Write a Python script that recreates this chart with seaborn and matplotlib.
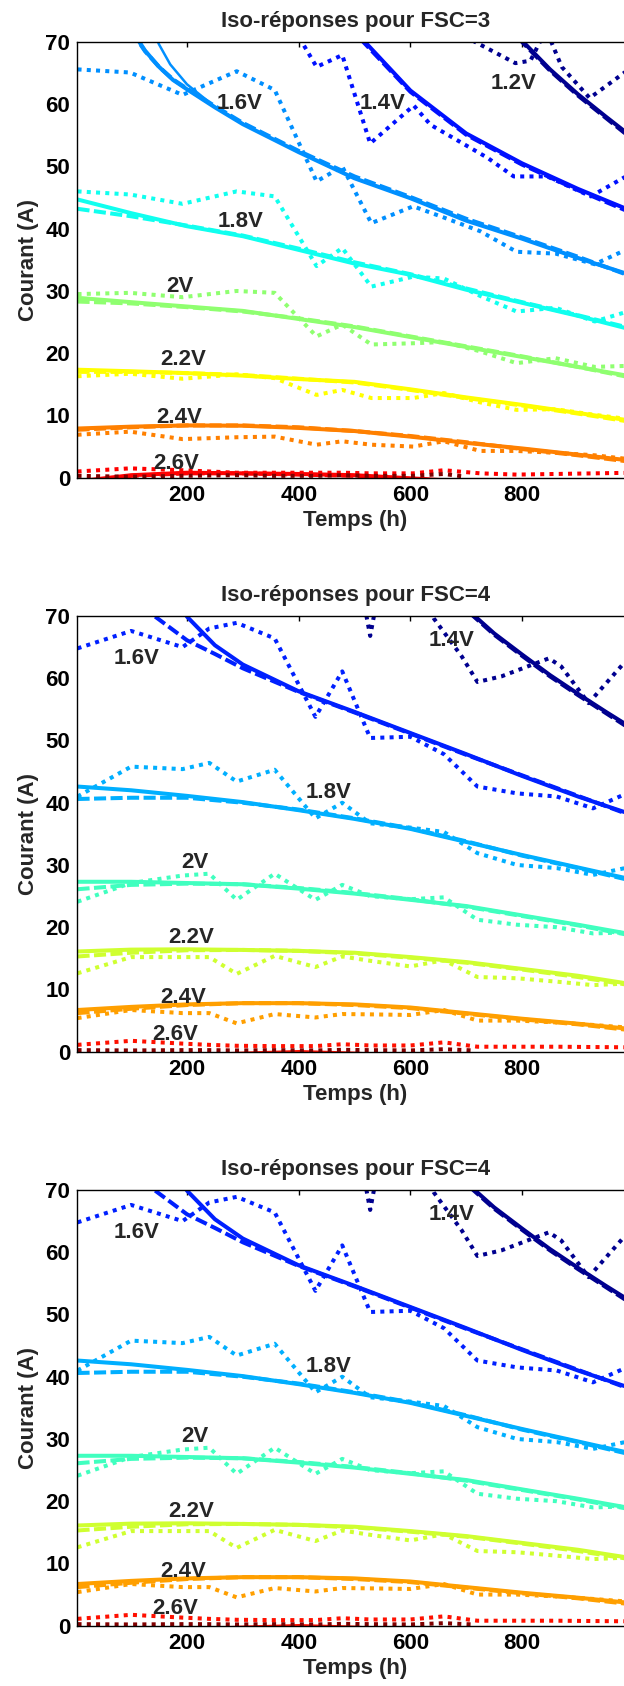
import numpy as np
import matplotlib
matplotlib.use("Agg")
import matplotlib.pyplot as plt
import seaborn as sns

# ---------------------------------------------------------------- data
T_MODEL = [4, 100, 200, 300, 400, 500, 600, 700, 800, 900, 1000]

# ---- FSC = 3 : model curves (solid / dashed) ----
F3_T12 = [700, 750, 800, 850, 900, 950, 1000]
F3_SOLID_12 = [82.0, 75.8, 70.2, 65.6, 61.6, 58.0, 54.5]
F3_DASH_12 = [81.6, 75.5, 70.0, 65.4, 61.4, 57.8, 54.2]

F3_T14 = [450, 500, 600, 700, 800, 900, 1000]
F3_SOLID_14 = [78.5, 71.8, 62.2, 55.3, 50.5, 46.4, 42.7]
F3_DASH_14 = [78.0, 71.5, 62.0, 55.1, 50.3, 46.2, 42.4]

F3_T16 = [100, 125, 150, 175, 200, 250, 300, 400, 500, 600, 700, 800, 900, 1000]
F3_SOLID_16 = [72.0, 68.6, 66.0, 63.9, 62.4, 59.5, 56.8, 52.3, 48.1, 44.9, 41.3, 38.4, 35.3, 32.4]
F3_DASH_16 = [71.8, 68.5, 66.0, 64.0, 62.5, 59.7, 57.0, 52.5, 48.4, 45.1, 41.6, 38.6, 35.5, 32.2]
F3_T16_THIN = [130, 150, 170, 200, 250, 300]
F3_THIN_16 = [73.5, 69.6, 66.4, 63.2, 59.6, 56.9]

F3_SOLID_18 = [44.7, 42.5, 40.4, 38.8, 36.6, 34.4, 32.6, 30.2, 28.1, 26.0, 23.7]
F3_DASH_18 = [43.2, 42.0, 40.5, 38.9, 36.8, 34.6, 32.7, 30.4, 28.2, 26.1, 23.9]
F3_SOLID_20 = [28.9, 28.2, 27.5, 26.8, 25.5, 24.2, 22.6, 21.0, 19.4, 17.8, 16.2]
F3_DASH_20 = [28.3, 28.0, 27.4, 26.7, 25.6, 24.3, 22.7, 21.1, 19.5, 17.8, 16.0]
F3_SOLID_22 = [17.35, 17.1, 16.8, 16.4, 15.85, 15.4, 14.2, 12.9, 11.7, 10.4, 9.1]
F3_DASH_22 = [17.0, 17.0, 16.8, 16.5, 15.9, 15.3, 14.1, 12.8, 11.6, 10.3, 8.9]
F3_SOLID_24 = [7.9, 8.2, 8.4, 8.35, 8.0, 7.5, 6.6, 5.6, 4.7, 3.7, 2.7]
F3_DASH_24 = [7.7, 8.1, 8.4, 8.4, 8.1, 7.5, 6.7, 5.7, 4.6, 3.6, 2.5]
F3_SOLID_26 = [-0.6, 0.4, 0.8, 0.7, 0.6, 0.4, -0.1, -0.6, -1.0, -1.5, -2.0]
F3_DASH_26 = [-0.8, 0.3, 0.7, 0.7, 0.5, 0.3, -0.2, -0.7, -1.2, -1.6, -2.1]

# ---- FSC = 3 : measurements (dotted) ----
F3_T_MEAS = [4, 98, 192, 289, 357, 432, 478, 530, 605, 660, 725, 790, 860, 930, 1000]
F3_DOT_16 = [65.6, 65.1, 61.5, 65.3, 62.3, 47.6, 50.0, 40.9, 43.6, 41.8, 39.6, 36.3, 36.0, 34.3, 37.2]
F3_DOT_18 = [46.0, 45.5, 44.0, 46.0, 45.2, 34.0, 36.9, 30.7, 32.3, 32.0, 29.2, 26.7, 27.3, 25.1, 27.0]
F3_DOT_20 = [29.5, 29.7, 29.0, 30.0, 29.7, 22.7, 24.6, 21.4, 21.6, 21.8, 20.3, 18.4, 19.2, 17.8, 18.0]
F3_DOT_22 = [16.3, 16.7, 15.9, 16.6, 16.0, 13.3, 14.1, 12.8, 12.8, 13.6, 12.1, 10.9, 11.0, 10.1, 9.3]
F3_DOT_24 = [6.9, 7.4, 6.2, 6.5, 6.6, 5.3, 5.85, 5.3, 5.0, 5.85, 4.3, 4.3, 4.0, 3.6, 2.9]
F3_DOT_26 = [1.0, 1.5, 1.2, 0.8, 0.8, 0.8, 0.8, 0.7, 0.7, 1.2, 0.7, 0.5, 0.6, 0.7, 0.8]
F3_T_DOT_28 = [4, 98, 192, 289, 357, 432, 478, 530, 605, 660, 695]
F3_DOT_28 = [0.3, 0.15, 0.3, 0.4, 0.3, 0.3, 0.4, 0.3, 0.3, 0.6, 0.2]
F3_T_DOT_14 = [380, 407, 432, 478, 528, 606, 636, 738, 785, 845, 923, 982, 1000]
F3_DOT_14 = [73.0, 69.8, 66.0, 67.9, 53.7, 59.8, 56.7, 51.4, 48.4, 48.4, 45.2, 48.2, 49.0]
F3_T_DOT_12 = [660, 714, 788, 815, 843, 871, 921, 982, 1000]
F3_DOT_12 = [74.0, 70.1, 66.6, 67.0, 72.0, 66.0, 61.0, 65.0, 66.2]

F3_VOLTS = ["1.2V", "1.4V", "1.6V", "1.8V", "2V", "2.2V", "2.4V", "2.6V", "2.8V"]
F3_LABEL_X = [785, 550, 295, 296, 187, 193, 186, 181]
F3_LABEL_Y = [62.5, 59.3, 59.3, 40.2, 29.9, 18.05, 8.8, 1.4]

# ---- FSC = 4 : model curves ----
F4_T14 = [650, 700, 750, 800, 850, 900, 950, 1000]
F4_SOLID_14 = [77.0, 71.2, 67.2, 63.8, 60.5, 57.5, 54.6, 51.8]
F4_DASH_14 = [76.6, 71.0, 67.0, 63.6, 60.3, 57.3, 54.4, 51.5]

F4_T16_SOLID = [185, 200, 250, 300, 400, 500, 600, 700, 800, 900, 1000]
F4_SOLID_16 = [72.5, 69.9, 65.3, 62.2, 57.9, 54.6, 51.2, 47.8, 44.3, 41.0, 38.0]
F4_T16_DASH = [125, 143, 200, 250, 300, 400, 500, 600, 700, 800, 900, 1000]
F4_DASH_16 = [72.0, 69.9, 66.1, 63.9, 61.6, 57.8, 54.5, 51.1, 47.7, 44.4, 41.1, 37.8]

F4_SOLID_18 = [42.6, 42.0, 41.1, 40.1, 38.8, 37.4, 35.8, 33.7, 31.6, 29.6, 27.6]
F4_DASH_18 = [40.6, 40.8, 40.8, 40.0, 38.9, 37.5, 35.9, 33.8, 31.5, 29.5, 27.4]
F4_SOLID_20 = [27.3, 27.3, 27.1, 26.9, 26.2, 25.4, 24.4, 23.4, 21.9, 20.4, 18.8]
F4_DASH_20 = [26.1, 26.8, 27.0, 26.9, 26.3, 25.5, 24.5, 23.3, 21.8, 20.3, 18.6]
F4_SOLID_22 = [16.1, 16.4, 16.45, 16.35, 16.2, 15.9, 15.2, 14.4, 13.3, 12.2, 10.8]
F4_DASH_22 = [15.3, 15.9, 16.3, 16.35, 16.2, 15.8, 15.1, 14.3, 13.2, 12.0, 10.6]
F4_SOLID_24 = [6.7, 7.2, 7.6, 7.8, 7.8, 7.6, 7.1, 6.2, 5.3, 4.5, 3.6]
F4_DASH_24 = [6.2, 6.9, 7.5, 7.8, 7.8, 7.5, 7.0, 6.1, 5.2, 4.4, 3.4]
F4_SOLID_26 = [-1.5, -1.0, -0.6, -0.3, -0.05, -0.3, -0.8, -1.3, -1.8, -2.3, -2.8]
F4_DASH_26 = [-1.7, -1.2, -0.8, -0.5, -0.25, -0.5, -1.0, -1.5, -2.0, -2.5, -3.0]

# ---- FSC = 4 : measurements ----
F4_T_MEAS = [4, 100, 192, 240, 289, 357, 430, 478, 528, 600, 660, 720, 791, 862, 927, 1000]
F4_DOT_16 = [64.8, 67.6, 65.0, 68.0, 68.9, 66.4, 53.8, 61.1, 50.4, 50.6, 47.8, 42.6, 41.5, 41.0, 39.1, 42.0]
F4_DOT_18 = [41.0, 45.8, 45.4, 46.4, 43.4, 45.3, 37.5, 40.0, 36.7, 36.0, 35.3, 31.9, 30.0, 29.5, 28.4, 29.8]
F4_DOT_20 = [24.1, 27.1, 28.3, 28.6, 24.4, 28.6, 24.4, 26.8, 25.0, 24.5, 24.8, 21.2, 20.4, 20.0, 19.0, 19.2]
F4_DOT_22 = [12.6, 15.2, 15.2, 15.2, 12.5, 15.4, 13.6, 15.3, 14.6, 13.7, 14.7, 12.0, 11.8, 11.25, 10.7, 11.0]
F4_DOT_24 = [5.4, 6.7, 6.2, 6.2, 4.55, 6.05, 5.5, 6.05, 6.0, 5.9, 6.7, 5.0, 5.0, 4.7, 4.3, 3.8]
F4_DOT_26 = [1.1, 1.75, 1.3, 1.1, 0.95, 0.9, 0.9, 1.2, 1.0, 1.0, 1.5, 0.8, 0.8, 0.8, 0.75, 0.7]
F4_T_DOT_28 = [4, 100, 192, 240, 289, 357, 430, 478, 528, 600, 660, 713]
F4_DOT_28 = [0.25, 0.2, 0.25, 0.25, 0.2, 0.25, 0.2, 0.3, 0.25, 0.2, 0.4, 0.2]
F4_T_DOT_14 = [515, 528, 541, 625, 642, 692, 720, 763, 848, 870, 919, 982, 1000]
F4_DOT_14 = [73.0, 66.8, 73.0, 73.0, 69.6, 63.5, 59.4, 60.3, 63.2, 61.9, 56.0, 62.4, 63.8]

F4_VOLTS = ["1.4V", "1.6V", "1.8V", "2V", "2.2V", "2.4V", "2.6V", "2.8V"]
F4_LABEL_X = [674, 109, 453, 214, 208, 194, 179]
F4_LABEL_Y = [65.2, 62.3, 40.7, 29.5, 17.5, 7.9, 1.9]

TITLES = ["Iso-réponses pour FSC=3", "Iso-réponses pour FSC=4", "Iso-réponses pour FSC=4"]
X_TICKS = [200, 400, 600, 800]
Y_TICKS = [0, 10, 20, 30, 40, 50, 60, 70]


# ---------------------------------------------------------------- style
def jet64():
    """Classic 64-entry jet colour table."""
    n = 16
    u = np.concatenate([np.arange(1, n + 1) / n, np.ones(n - 1), np.arange(n, 0, -1) / n])
    g = 8 + np.arange(1, len(u) + 1)
    r, b = g + n, g - n
    table = np.zeros((64, 3))
    for k in range(len(u)):
        if 1 <= r[k] <= 64:
            table[r[k] - 1, 0] = u[k]
        if 1 <= g[k] <= 64:
            table[g[k] - 1, 1] = u[k]
        if 1 <= b[k] <= 64:
            table[b[k] - 1, 2] = u[k]
    return table


def jet_colors(count):
    rows = np.floor(np.linspace(0, 63, count) + 0.5).astype(int)
    return [tuple(c) for c in jet64()[rows]]


SOLID = dict(linewidth=2.9, linestyle="-")
THIN = dict(linewidth=1.8, linestyle="-")
DASH = dict(linewidth=2.9, linestyle=(0, (3.0, 1.1)))
DOT = dict(linewidth=2.9, linestyle=(0, (1.0, 1.3)))

sns.set_style("white")
plt.rcParams["font.family"] = ["Liberation Sans", "DejaVu Sans"]
plt.rcParams["font.weight"] = "bold"
plt.rcParams["axes.labelweight"] = "bold"
plt.rcParams["axes.titleweight"] = "bold"

FS = 16


def line(ax, t, y, color, style):
    sns.lineplot(x=t, y=y, ax=ax, color=color, sort=False, estimator=None, **style)


def setup(ax, title):
    ax.set_xlim(3.6, 1000)
    ax.set_ylim(0, 70)
    ax.set_xticks(X_TICKS)
    ax.set_yticks(Y_TICKS)
    ax.tick_params(direction="in", length=3.6, width=1.0, top=True, right=True,
                   labelsize=FS, pad=5, colors="black")
    for lab in ax.get_xticklabels() + ax.get_yticklabels():
        lab.set_fontweight("bold")
    for sp in ax.spines.values():
        sp.set_visible(True)
        sp.set_color("black")
        sp.set_linewidth(1.0)
    ax.set_title(title, fontsize=FS, fontweight="bold", pad=11)
    ax.set_xlabel("Temps (h)", fontsize=FS, fontweight="bold", labelpad=3)
    ax.set_ylabel("Courant (A)", fontsize=FS, fontweight="bold", labelpad=5)
    ax.grid(False)


def draw_fsc3(ax):
    c = jet_colors(len(F3_VOLTS))
    model = [
        (F3_T12, F3_SOLID_12, F3_T12, F3_DASH_12),
        (F3_T14, F3_SOLID_14, F3_T14, F3_DASH_14),
        (F3_T16, F3_SOLID_16, F3_T16, F3_DASH_16),
        (T_MODEL, F3_SOLID_18, T_MODEL, F3_DASH_18),
        (T_MODEL, F3_SOLID_20, T_MODEL, F3_DASH_20),
        (T_MODEL, F3_SOLID_22, T_MODEL, F3_DASH_22),
        (T_MODEL, F3_SOLID_24, T_MODEL, F3_DASH_24),
        (T_MODEL, F3_SOLID_26, T_MODEL, F3_DASH_26),
    ]
    meas = [
        (F3_T_DOT_12, F3_DOT_12), (F3_T_DOT_14, F3_DOT_14),
        (F3_T_MEAS, F3_DOT_16), (F3_T_MEAS, F3_DOT_18), (F3_T_MEAS, F3_DOT_20),
        (F3_T_MEAS, F3_DOT_22), (F3_T_MEAS, F3_DOT_24), (F3_T_MEAS, F3_DOT_26),
        (F3_T_DOT_28, F3_DOT_28),
    ]
    for i, (ts, ys, td, yd) in enumerate(model):
        line(ax, ts, ys, c[i], SOLID)
        line(ax, td, yd, c[i], DASH)
        if F3_VOLTS[i] == "1.6V":
            line(ax, F3_T16_THIN, F3_THIN_16, c[i], THIN)
    for i, (tm, ym) in enumerate(meas):
        line(ax, tm, ym, c[i], DOT)
    for lab, x, y in zip(F3_VOLTS, F3_LABEL_X, F3_LABEL_Y):
        ax.text(x, y, lab, ha="center", va="baseline", fontsize=FS, fontweight="bold")


def draw_fsc4(ax):
    c = jet_colors(len(F4_VOLTS))
    model = [
        (F4_T14, F4_SOLID_14, F4_T14, F4_DASH_14),
        (F4_T16_SOLID, F4_SOLID_16, F4_T16_DASH, F4_DASH_16),
        (T_MODEL, F4_SOLID_18, T_MODEL, F4_DASH_18),
        (T_MODEL, F4_SOLID_20, T_MODEL, F4_DASH_20),
        (T_MODEL, F4_SOLID_22, T_MODEL, F4_DASH_22),
        (T_MODEL, F4_SOLID_24, T_MODEL, F4_DASH_24),
        (T_MODEL, F4_SOLID_26, T_MODEL, F4_DASH_26),
    ]
    meas = [
        (F4_T_DOT_14, F4_DOT_14), (F4_T_MEAS, F4_DOT_16), (F4_T_MEAS, F4_DOT_18),
        (F4_T_MEAS, F4_DOT_20), (F4_T_MEAS, F4_DOT_22), (F4_T_MEAS, F4_DOT_24),
        (F4_T_MEAS, F4_DOT_26), (F4_T_DOT_28, F4_DOT_28),
    ]
    for i, (ts, ys, td, yd) in enumerate(model):
        line(ax, ts, ys, c[i], SOLID)
        line(ax, td, yd, c[i], DASH)
    for i, (tm, ym) in enumerate(meas):
        line(ax, tm, ym, c[i], DOT)
    for lab, x, y in zip(F4_VOLTS, F4_LABEL_X, F4_LABEL_Y):
        ax.text(x, y, lab, ha="center", va="baseline", fontsize=FS, fontweight="bold")


# ---------------------------------------------------------------- layout
W, H = 624, 1686
fig = plt.figure(figsize=(W / 100, H / 100), dpi=100)
fig.patch.set_facecolor("white")

AX_LEFT, AX_RIGHT, AX_H = 77.3, 633.8, 435.7
AX_TOPS = [42.0, 616.0, 1190.0]
drawers = [draw_fsc3, draw_fsc4, draw_fsc4]

for top, title, draw in zip(AX_TOPS, TITLES, drawers):
    ax = fig.add_axes([AX_LEFT / W, 1 - (top + AX_H) / H, (AX_RIGHT - AX_LEFT) / W, AX_H / H])
    ax.set_facecolor("white")
    draw(ax)
    setup(ax, title)

fig.savefig("out.png", dpi=100, facecolor="white")
